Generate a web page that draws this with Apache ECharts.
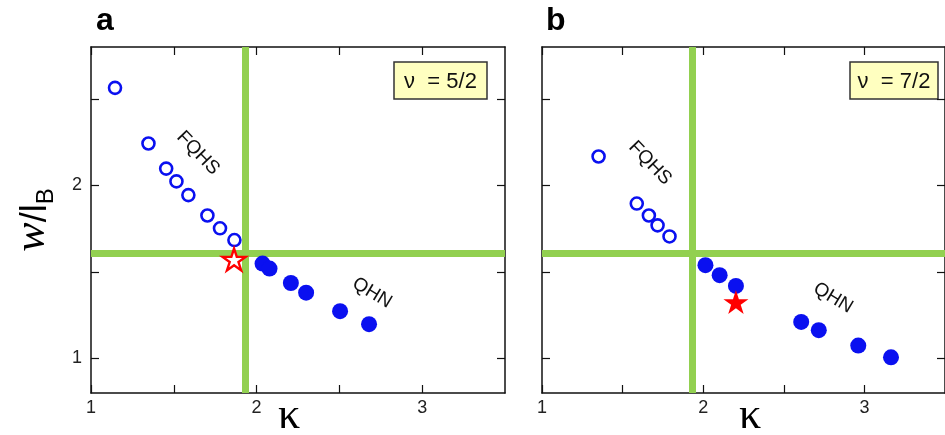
<!DOCTYPE html>
<html>
<head>
<meta charset="utf-8">
<script src="https://cdn.jsdelivr.net/npm/echarts@6/dist/echarts.min.js"></script>
<style>html,body{margin:0;padding:0;background:#fff}#c{width:945px;height:435px}</style>
</head>
<body>
<div id="c"></div>
<script>
// ---- data ----
const xTickValues = [1, 1.5, 2, 2.5, 3];
const xLabelValues = [1, 2, 3];
const yTickValues = [1, 1.5, 2, 2.5];
const yLabelValues = [1, 2];

const aFqhsKappa = [1.145, 1.347, 1.454, 1.516, 1.588, 1.703, 1.779, 1.866];
const aFqhsW     = [2.564, 2.242, 2.097, 2.023, 1.944, 1.826, 1.752, 1.684];
const aQhnKappa  = [2.036, 2.078, 2.207, 2.299, 2.504, 2.679];
const aQhnW      = [1.548, 1.519, 1.436, 1.380, 1.273, 1.198];
const aStar      = [1.864, 1.572];

const bFqhsKappa = [1.351, 1.588, 1.663, 1.717, 1.791];
const bFqhsW     = [2.167, 1.895, 1.826, 1.769, 1.705];
const bQhnKappa  = [2.014, 2.102, 2.203, 2.608, 2.717, 2.962, 3.165];
const bQhnW      = [1.539, 1.481, 1.419, 1.211, 1.163, 1.074, 1.006];
const bStar      = [2.203, 1.326];

const kappaCritA = 1.93, wCritA = 1.61;
const kappaCritB = 1.93, wCritB = 1.61;

const panelLabels = ['a', 'b'];
const nuLabels = ['\u03bd  = 5/2', '\u03bd  = 7/2'];

// ---- build ----
const zip = (xs, ys) => xs.map((x, i) => [x, ys[i]]);
const STAR = 'path://M50,0 L61.23,34.55 L97.55,34.55 L68.16,55.9 L79.39,90.45 L50,69.1 L20.61,90.45 L31.84,55.9 L2.45,34.55 L38.77,34.55 Z';
const BLUE = '#0a10f0', GREEN = '#92d050', RED = '#ff0000';
const FONT = '"Liberation Sans", Arial, sans-serif';

function xAx(grid, pos, labels) {
  return {
    type: 'value', gridIndex: grid, position: pos, min: 1, max: 3.5,
    axisLine: { show: true, onZero: false, lineStyle: { color: '#111', width: 1.5 } },
    axisTick: { show: true, inside: true, length: 8, customValues: xTickValues, lineStyle: { color: '#111', width: 1.2 } },
    axisLabel: { show: labels, customValues: xLabelValues, margin: 6, color: '#222', fontSize: 18, fontFamily: FONT },
    splitLine: { show: false }
  };
}
function yAx(grid, pos, labels) {
  return {
    type: 'value', gridIndex: grid, position: pos, min: 0.8, max: 2.8,
    axisLine: { show: true, onZero: false, lineStyle: { color: '#111', width: 1.5 } },
    axisTick: { show: true, inside: true, length: 8, customValues: yTickValues, lineStyle: { color: '#111', width: 1.2 } },
    axisLabel: { show: labels, customValues: yLabelValues, margin: 9, color: '#222', fontSize: 18, fontFamily: FONT },
    splitLine: { show: false }
  };
}

function panelSeries(xi, yi, fk, fw, qk, qw, star, starFilled, kc, wc) {
  return [
    { type: 'scatter', xAxisIndex: xi, yAxisIndex: yi, data: [], silent: true, z: 1, zlevel: 0,
      markLine: { silent: true, symbol: ['none', 'none'], label: { show: false },
        lineStyle: { color: GREEN, width: 7, type: 'solid', opacity: 1 },
        emphasis: { disabled: true },
        data: [{ xAxis: kc }, { yAxis: wc }] } },
    { type: 'scatter', xAxisIndex: xi, yAxisIndex: yi, z: 3, zlevel: 1, data: zip(fk, fw),
      symbol: 'circle', symbolSize: 12,
      itemStyle: { color: '#fff', borderColor: BLUE, borderWidth: 2.6, opacity: 1 } },
    { type: 'scatter', xAxisIndex: xi, yAxisIndex: yi, z: 3, zlevel: 1, data: zip(qk, qw),
      symbol: 'circle', symbolSize: 16,
      itemStyle: { color: BLUE, opacity: 1 } },
    { type: 'scatter', xAxisIndex: xi, yAxisIndex: yi, z: 4, zlevel: 1, data: [star],
      symbol: STAR, symbolKeepAspect: true, symbolSize: starFilled ? 25 : 23,
      itemStyle: starFilled ? { color: RED, opacity: 1 } : { color: '#fff', borderColor: RED, borderWidth: 2.4, opacity: 1 } }
  ];
}

function rotText(text, x, y, deg, size) {
  return { type: 'text', x: x, y: y, rotation: deg * Math.PI / 180, z: 10, zlevel: 1,
    style: { text: text, fill: '#111', font: size + 'px ' + FONT, align: 'center', verticalAlign: 'middle' } };
}
function nuBox(x, y, w, h, text) {
  return { type: 'group', z: 10, zlevel: 1, children: [
    { type: 'rect', shape: { x: x, y: y, width: w, height: h }, style: { fill: '#ffffc0', stroke: '#333', lineWidth: 1.5 } },
    { type: 'text', x: x + w / 2, y: y + h / 2 + 1, style: { text: text, fill: '#111', font: '22px ' + FONT, align: 'center', verticalAlign: 'middle' } }
  ]};
}

const chart = echarts.init(document.getElementById('c'), null, { renderer: 'canvas' });
chart.setOption({
  animation: false,
  backgroundColor: '#fff',
  grid: [
    { left: 91, top: 47, width: 414, height: 346 },
    { left: 542, top: 47, width: 414, height: 346 }
  ],
  xAxis: [xAx(0, 'bottom', true), xAx(0, 'top', false), xAx(1, 'bottom', true), xAx(1, 'top', false)],
  yAxis: [yAx(0, 'left', true), yAx(0, 'right', false), yAx(1, 'left', false), yAx(1, 'right', false)],
  series: [].concat(
    panelSeries(0, 0, aFqhsKappa, aFqhsW, aQhnKappa, aQhnW, aStar, false, kappaCritA, wCritA),
    panelSeries(2, 2, bFqhsKappa, bFqhsW, bQhnKappa, bQhnW, bStar, true, kappaCritB, wCritB)
  ),
  graphic: [
    { type: 'text', x: 96, y: 37, style: { text: panelLabels[0], fill: '#000', font: 'bold 32px ' + FONT, verticalAlign: 'bottom' } },
    { type: 'text', x: 546, y: 37, style: { text: panelLabels[1], fill: '#000', font: 'bold 32px ' + FONT, verticalAlign: 'bottom' } },
    nuBox(394, 62, 93, 37, nuLabels[0]),
    nuBox(850, 62, 88, 37, nuLabels[1]),
    rotText('FQHS', 198, 153, -46, 19),
    rotText('FQHS', 650, 163, -46, 19),
    rotText('QHN', 372, 293, -31, 19),
    rotText('QHN', 833, 298, -31, 19),
    { type: 'text', x: 289, y: 438, style: { text: '\u03ba', fill: '#000', font: '44px "Liberation Serif", "DejaVu Serif", serif', align: 'center', verticalAlign: 'bottom' } },
    { type: 'text', x: 750, y: 438, style: { text: '\u03ba', fill: '#000', font: '44px "Liberation Serif", "DejaVu Serif", serif', align: 'center', verticalAlign: 'bottom' } },
    { type: 'text', x: 32, y: 220, rotation: Math.PI / 2, z: 10,
      style: { text: '{w|w}{s|/l}{b|B}', align: 'center', verticalAlign: 'middle',
        rich: {
          w: { font: 'italic 44px "Liberation Serif", serif', fill: '#000', verticalAlign: 'bottom' },
          s: { font: '36px ' + FONT, fill: '#000', verticalAlign: 'bottom' },
          b: { font: '24px ' + FONT, fill: '#000', verticalAlign: 'bottom', padding: [0, 0, -4, 0] }
        } } }
  ]
});
</script>
</body>
</html>
